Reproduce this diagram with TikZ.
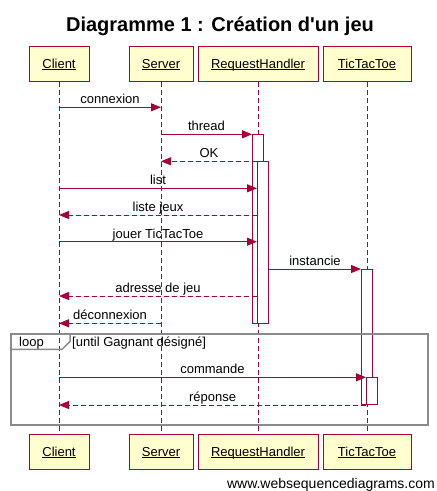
\documentclass[tikz,border=0pt]{standalone}
\usepackage{fontspec}
\setmainfont{Liberation Sans}[Ligatures=TeXOff]
\usetikzlibrary{arrows.meta}
\definecolor{wsdred}{HTML}{A80036}
\definecolor{wsdfill}{HTML}{FEFECE}
\definecolor{wsdgray}{HTML}{8A8A8A}
\newsavebox\ulheadbox
\newcommand\ulhead[1]{\sbox\ulheadbox{#1}\rlap{\rule[-1.8pt]{\wd\ulheadbox}{0.9pt}}\usebox\ulheadbox}
\tikzset{
  head/.style={draw=wsdred, fill=wsdfill, line width=1pt, minimum height=35pt,
    inner sep=0pt, font=\fontsize{13}{15}\selectfont, text height=9.4pt, text depth=1pt},
  life/.style={draw=wsdred, line width=1pt, dash pattern=on 5pt off 3pt},
  bar/.style={draw=wsdred, fill=white, line width=1pt, minimum width=11pt, inner sep=0pt, anchor=north},
  msg/.style={draw=wsdred, line width=1pt, -{Triangle[length=10pt,width=8pt]}},
  ret/.style={msg, dash pattern=on 5pt off 3pt},
  lab/.style={anchor=base, yshift=3.5pt, inner sep=0pt, font=\fontsize{13}{15}\selectfont, text=black},
  frametxt/.style={anchor=base west, inner sep=0pt, font=\fontsize{13}{15}\selectfont}
}
\begin{document}
\begin{tikzpicture}[x=1pt,y=-1pt]
\useasboundingbox (0,0) rectangle (437,491);
% title
\node[anchor=base, font=\fontsize{20}{24}\selectfont\bfseries] (title) at (220,31) {Diagramme 1 : Création d'un jeu};
% heads
\node[head, minimum width=60pt] (cl) at (59,63.8) {\ulhead{Client}};
\node[head, minimum width=64pt] (sv) at (161,63.8) {\ulhead{Server}};
\node[head, minimum width=120pt] (rh) at (258,63.8) {\ulhead{RequestHandler}};
\node[head, minimum width=88pt] (tt) at (367,63.8) {\ulhead{TicTacToe}};
\node[head, minimum width=60pt] (clb) at (59,451.8) {\ulhead{Client}};
\node[head, minimum width=64pt] (svb) at (161,451.8) {\ulhead{Server}};
\node[head, minimum width=120pt] (rhb) at (258,451.8) {\ulhead{RequestHandler}};
\node[head, minimum width=88pt] (ttb) at (367,451.8) {\ulhead{TicTacToe}};
% lifelines
\draw[life] (cl.south) -- (clb.north);
\draw[life] (sv.south) -- (svb.north);
\draw[life] (rh.south) -- (rhb.north);
\draw[life] (tt.south) -- (ttb.north);
% activation bars
\node[bar, minimum height=189pt] (rh1) at (258,134.3) {};
\node[bar, minimum height=162pt] (rh2) at (263,161.3) {};
\node[bar, minimum height=135pt] (tt1) at (367,269) {};
\node[bar, minimum height=26.7pt] (tt2) at (372,377.3) {};
% loop frame
\draw[wsdgray, line width=2pt] (11,334.3) rectangle (428.3,424.7);
\draw[wsdgray, line width=1.5pt] (11,349.3) -- (62,349.3) -- (70,341.5) -- (70,334.3);
\node[frametxt] (looplab) at (19,346.7) {loop};
\node[frametxt] (loopcond) at (72,346.7) {[until Gagnant désigné]};
% messages
\draw[msg] (cl.south |- 0,107.3) -- node[lab]{connexion} (sv.south |- 0,107.3);
\draw[msg] (sv.south |- rh1.north west) -- node[lab]{thread} (rh1.north west);
\draw[ret] (rh2.north west) -- node[lab]{OK} (sv.south |- rh2.north west);
\draw[msg] (cl.south |- 0,188.3) -- node[lab]{list} (rh2.west |- 0,188.3);
\draw[ret] (rh2.west |- 0,215) -- node[lab]{liste jeux} (cl.south |- 0,215);
\draw[msg] (cl.south |- 0,241.7) -- node[lab]{jouer TicTacToe} (rh2.west |- 0,241.7);
\draw[msg] (rh2.east |- tt1.north west) -- node[lab]{instancie} (tt1.north west);
\draw[ret] (rh2.west |- 0,296) -- node[lab]{adresse de jeu} (cl.south |- 0,296);
\draw[ret] (sv.south |- 0,323.3) -- node[lab]{déconnexion} (cl.south |- 0,323.3);
\draw[msg] (cl.south |- tt2.north west) -- node[lab]{commande} (tt2.north west);
\draw[ret] (tt2.south west) -- node[lab]{réponse} (cl.south |- tt2.south west);
% watermark
\node[anchor=base east, inner sep=0pt, font=\fontsize{14}{16}\selectfont] (wm) at (435,488) {www.websequencediagrams.com};
\end{tikzpicture}
\end{document}
